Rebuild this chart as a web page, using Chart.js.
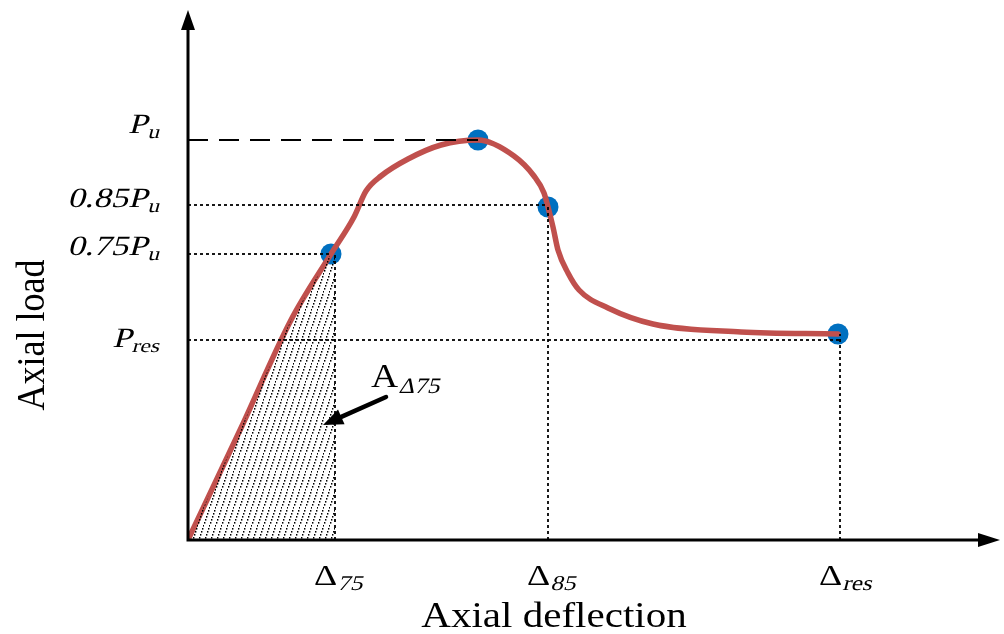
<!DOCTYPE html>
<html>
<head>
<meta charset="utf-8">
<script src="https://cdn.jsdelivr.net/npm/chart.js@4.4.1/dist/chart.umd.min.js"></script>
<style>
  html, body { margin: 0; padding: 0; background: #fff; }
  #wrap { width: 1004px; height: 634px; }
</style>
</head>
<body>
<div id="wrap"><canvas id="chart" width="1004" height="634"></canvas></div>
<script>
// load-deflection curve (arbitrary units)
const deflection = [0, 5.3, 10.3, 14.3, 16.6, 17.8, 19.3, 22.0, 25.3, 29.0, 32.6, 34.6, 35.6, 36.0, 36.5, 37.0, 38.0, 39.1, 42.0, 46.5, 55.3, 65.0];
const load       = [0, 11.2, 22.0, 28.6, 32.3, 34.9, 36.4, 38.1, 39.5, 40.0, 38.4, 36.4, 34.7, 33.3, 31.3, 29.0, 26.7, 25.0, 23.2, 21.6, 20.8, 20.6];

// characteristic points: 0.75Pu, Pu, 0.85Pu, Pres
const markerDefl = [14.3, 29.0, 36.0, 65.0];
const markerLoad = [28.6, 40.0, 33.3, 20.6];

// shaded area A_Δ75 (under the curve up to Δ75)
const areaDefl = [0, 5.3, 10.3, 14.3, 14.7];
const areaLoad = [0, 11.2, 22.0, 28.6, 28.6];

// horizontal guide lines
const yTickLoad = [40.0, 33.5, 28.6, 20.0];
const yTickEnd  = [29.0, 36.0, 14.3, 65.2];
const yTickMain = ["P", "0.85P", "0.75P", "P"];
const yTickSub  = ["u", "u", "u", "res"];

// vertical guide lines
const xTickDefl = [14.7, 36.0, 65.2];
const xTickTop  = [28.6, 33.3, 20.6];
const xTickSub  = ["75", "85", "res"];

// annotation arrow (from -> to) and label
const arrowFrom = [19.8, 14.3];
const arrowTo   = [13.5, 11.5];
const areaLabelAt = [18.3, 15.3];

const X_MAX = 81.2;
const Y_MAX = 53;

const SERIF = '"Liberation Serif", "Times New Roman", serif';
const CURVE_RED = "#c0504d";
const MARK_BLUE = "#0070c0";

function makeHatch() {
    const c = document.createElement("canvas");
    c.width = 6;
    c.height = 18;
    const g = c.getContext("2d");
    g.fillStyle = "#000";
    for (let y = 0; y < 18; y += 3) {
        const x = ((18 - y) / 3) % 6;
        g.fillRect(x, y, 1.4, 1.6);
    }
    return g.createPattern(c, "repeat");
}

function pts(xs, ys) {
    return xs.map((v, i) => ({ x: v, y: ys[i] }));
}

// text with sub-script parts, stretched a little horizontally like the original;
// italics are slanted by hand since only the upright serif face is reliable
function drawRich(ctx, parts, x, y, align, sx) {
    ctx.save();
    let w = 0;
    for (const p of parts) {
        ctx.font = p.size + "px " + SERIF;
        w += ctx.measureText(p.t).width;
    }
    let start = x;
    if (align === "right") start = x - w * sx;
    else if (align === "center") start = x - (w * sx) / 2;
    ctx.translate(start, y);
    ctx.scale(sx, 1);
    ctx.textAlign = "left";
    ctx.textBaseline = "alphabetic";
    ctx.fillStyle = "#000";
    let cx = 0;
    for (const p of parts) {
        ctx.font = p.size + "px " + SERIF;
        ctx.save();
        ctx.translate(cx, p.dy || 0);
        if (p.it) ctx.transform(1, 0, -0.22, 1, 0, 0);
        ctx.fillText(p.t, 0, 0);
        ctx.restore();
        cx += ctx.measureText(p.t).width;
    }
    ctx.restore();
}

const decorPlugin = {
    id: "decor",
    afterDatasetsDraw(chart) {
        const ctx = chart.ctx;
        const xs = chart.scales.x;
        const ys = chart.scales.y;
        const area = chart.chartArea;
        const x0 = xs.getPixelForValue(0);
        const y0 = ys.getPixelForValue(0);

        ctx.save();
        ctx.strokeStyle = "#000";
        ctx.fillStyle = "#000";
        ctx.lineWidth = 3;

        // axes with arrow heads
        ctx.beginPath();
        ctx.moveTo(x0, y0 + 1.5);
        ctx.lineTo(x0, area.top + 16);
        ctx.moveTo(x0 - 1.5, y0);
        ctx.lineTo(area.right - 16, y0);
        ctx.stroke();

        ctx.beginPath();
        ctx.moveTo(x0, area.top);
        ctx.lineTo(x0 - 7, area.top + 20);
        ctx.lineTo(x0 + 7, area.top + 20);
        ctx.closePath();
        ctx.fill();

        ctx.beginPath();
        ctx.moveTo(area.right, y0);
        ctx.lineTo(area.right - 22, y0 - 7);
        ctx.lineTo(area.right - 22, y0 + 7);
        ctx.closePath();
        ctx.fill();

        // annotation arrow
        const ax1 = xs.getPixelForValue(arrowFrom[0]);
        const ay1 = ys.getPixelForValue(arrowFrom[1]);
        const ax2 = xs.getPixelForValue(arrowTo[0]);
        const ay2 = ys.getPixelForValue(arrowTo[1]);
        const ang = Math.atan2(ay2 - ay1, ax2 - ax1);
        const head = 20;
        const bx = ax2 - head * Math.cos(ang);
        const by = ay2 - head * Math.sin(ang);
        ctx.lineWidth = 4.5;
        ctx.lineCap = "round";
        ctx.beginPath();
        ctx.moveTo(ax1, ay1);
        ctx.lineTo(bx, by);
        ctx.stroke();
        ctx.beginPath();
        ctx.moveTo(ax2, ay2);
        ctx.lineTo(bx + 8 * Math.sin(ang), by - 8 * Math.cos(ang));
        ctx.lineTo(bx - 8 * Math.sin(ang), by + 8 * Math.cos(ang));
        ctx.closePath();
        ctx.fill();
        ctx.restore();

        // y tick labels
        const yShift = [-7, 2, 1, 7];
        yTickLoad.forEach((v, i) => {
            const py = ys.getPixelForValue(v) + yShift[i];
            drawRich(ctx, [
                { t: yTickMain[i], size: 28, it: true },
                { t: yTickSub[i], size: 19, it: true, dy: 5 },
            ], x0 - 29, py, "right", 1.24);
        });

        // x tick labels
        const xBase = y0 + 45;
        xTickDefl.forEach((v, i) => {
            const px = xs.getPixelForValue(v);
            drawRich(ctx, [
                { t: "\u0394", size: 30 },
                { t: xTickSub[i], size: 21, it: true, dy: 5 },
            ], px - 21, xBase, "left", 1.2);
        });

        // area label
        drawRich(ctx, [
            { t: "A", size: 33 },
            { t: "\u039475", size: 22, it: true, dy: 6 },
        ], xs.getPixelForValue(areaLabelAt[0]), ys.getPixelForValue(areaLabelAt[1]), "left", 1.14);

        // axis titles
        drawRich(ctx, [{ t: "Axial deflection", size: 36 }],
            (x0 + area.right) / 2 - 40, 627, "center", 1.14);

        ctx.save();
        ctx.translate(44, (ys.getPixelForValue(0) + area.top) / 2 + 60);
        ctx.rotate(-Math.PI / 2);
        ctx.font = "36px " + SERIF;
        ctx.textAlign = "center";
        ctx.textBaseline = "alphabetic";
        ctx.fillStyle = "#000";
        ctx.scale(1, 1.14);
        ctx.fillText("Axial load", 0, 0);
        ctx.restore();
    },
};

const guideSets = [];
yTickLoad.forEach((v, i) => {
    guideSets.push({
        data: [{ x: 0, y: v }, { x: yTickEnd[i], y: v }],
        borderColor: "#000",
        borderWidth: i === 0 ? 2 : 1.8,
        borderDash: i === 0 ? [20, 11] : [3, 3],
        pointRadius: 0,
        showLine: true,
        fill: false,
    });
});
xTickDefl.forEach((v, i) => {
    guideSets.push({
        data: [{ x: v, y: 0 }, { x: v, y: xTickTop[i] }],
        borderColor: "#000",
        borderWidth: 1.8,
        borderDash: [3, 3],
        pointRadius: 0,
        showLine: true,
        fill: false,
    });
});

new Chart(document.getElementById("chart").getContext("2d"), {
    type: "scatter",
    data: {
        datasets: [
            {
                data: pts(areaDefl, areaLoad),
                showLine: true,
                borderWidth: 0,
                borderColor: "rgba(0,0,0,0)",
                backgroundColor: makeHatch(),
                fill: "origin",
                pointRadius: 0,
                tension: 0,
            },
            ...guideSets,
            {
                data: pts(deflection, load),
                showLine: true,
                borderColor: CURVE_RED,
                borderWidth: 5.5,
                borderCapStyle: "round",
                borderJoinStyle: "round",
                cubicInterpolationMode: "monotone",
                pointRadius: 0,
                fill: false,
            },
            {
                data: pts(markerDefl, markerLoad),
                showLine: false,
                pointStyle: "circle",
                pointRadius: 10.5,
                pointBackgroundColor: MARK_BLUE,
                pointBorderWidth: 0,
                clip: false,
            },
        ],
    },
    options: {
        responsive: false,
        animation: false,
        devicePixelRatio: 1,
        layout: { autoPadding: false, padding: { left: 188, right: 4, top: 10, bottom: 94 } },
        plugins: { legend: { display: false }, tooltip: { enabled: false } },
        scales: {
            x: { type: "linear", min: 0, max: X_MAX, display: false },
            y: { type: "linear", min: 0, max: Y_MAX, display: false },
        },
    },
    plugins: [decorPlugin],
});
</script>
</body>
</html>
